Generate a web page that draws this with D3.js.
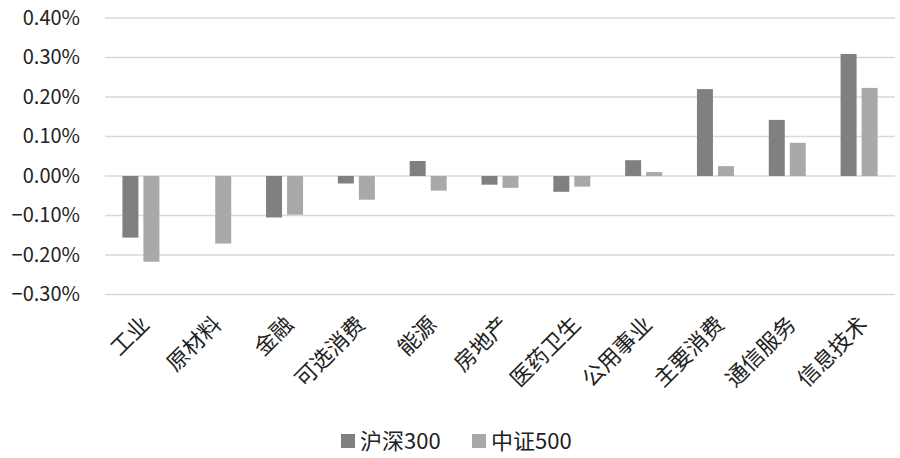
<!DOCTYPE html>
<html><head><meta charset="utf-8">
<script src="https://cdn.jsdelivr.net/npm/d3@7"></script>
<style>body{margin:0;background:#fff}svg{display:block}text{font-family:"Noto Sans CJK SC","Open Sans",sans-serif;fill:#222}</style>
</head><body><svg id="c" width="900" height="458"></svg>
<script>
const categories = ["工业","原材料","金融","可选消费","能源","房地产","医药卫生","公用事业","主要消费","通信服务","信息技术"];
const hs300 = [-0.156, 0, -0.105, -0.019, 0.038, -0.022, -0.040, 0.040, 0.220, 0.142, 0.309];
const zz500 = [-0.217, -0.171, -0.098, -0.060, -0.037, -0.030, -0.027, 0.010, 0.025, 0.084, 0.223];
const seriesNames = ["沪深300","中证500"];
const yTicks = [-0.3,-0.2,-0.1,0,0.1,0.2,0.3,0.4];
const colors = ["#808080","#a9a9a9"];

const svg = d3.select("#c");
const x = d3.scaleBand().domain(categories).range([105, 895]).paddingInner(0).paddingOuter(0);
const y = d3.scaleLinear().domain([-0.3, 0.4]).range([294.5, 18]);

// grid
svg.append("g").selectAll("line").data(yTicks).join("line")
  .attr("x1",105).attr("x2",895).attr("y1",d=>y(d)).attr("y2",d=>y(d))
  .attr("stroke","#d9d9d9").attr("stroke-width",1.3);

// y labels
const yAxis = d3.axisLeft(y).tickValues(yTicks).tickSize(0).tickPadding(0)
  .tickFormat(d=>d3.format(".2f")(d)+"%");
const ga = svg.append("g").attr("transform","translate(80,0)").call(yAxis);
ga.select(".domain").remove();
ga.selectAll("text").attr("font-size",20).attr("fill","#222").attr("font-family",'"Noto Sans CJK SC","Open Sans",sans-serif');

// bars
const bw = 16;
const data = [hs300, zz500];
data.forEach((vals, s) => {
  svg.append("g").selectAll("rect").data(vals).join("rect")
    .attr("x",(d,i)=>x(categories[i]) + x.bandwidth()/2 + (s===0 ? -18.5 : 2.5))
    .attr("width",bw)
    .attr("y",d=>Math.min(y(d),y(0)))
    .attr("height",d=>Math.abs(y(d)-y(0)))
    .attr("fill",colors[s]);
});

// x labels
svg.append("g").selectAll("text").data(categories).join("text")
  .attr("transform",d=>`translate(${x(d)+x.bandwidth()/2+10},${326}) rotate(-45)`)
  .attr("text-anchor","end").attr("font-size",22).text(d=>d);

// legend
const lg = svg.append("g");
const lx = [341, 472];
seriesNames.forEach((n,i)=>{
  lg.append("rect").attr("x",lx[i]).attr("y",434).attr("width",14).attr("height",14).attr("fill",colors[i]);
  lg.append("text").attr("x",lx[i]+19).attr("y",449).attr("font-size",22).text(n);
});
</script></body></html>
